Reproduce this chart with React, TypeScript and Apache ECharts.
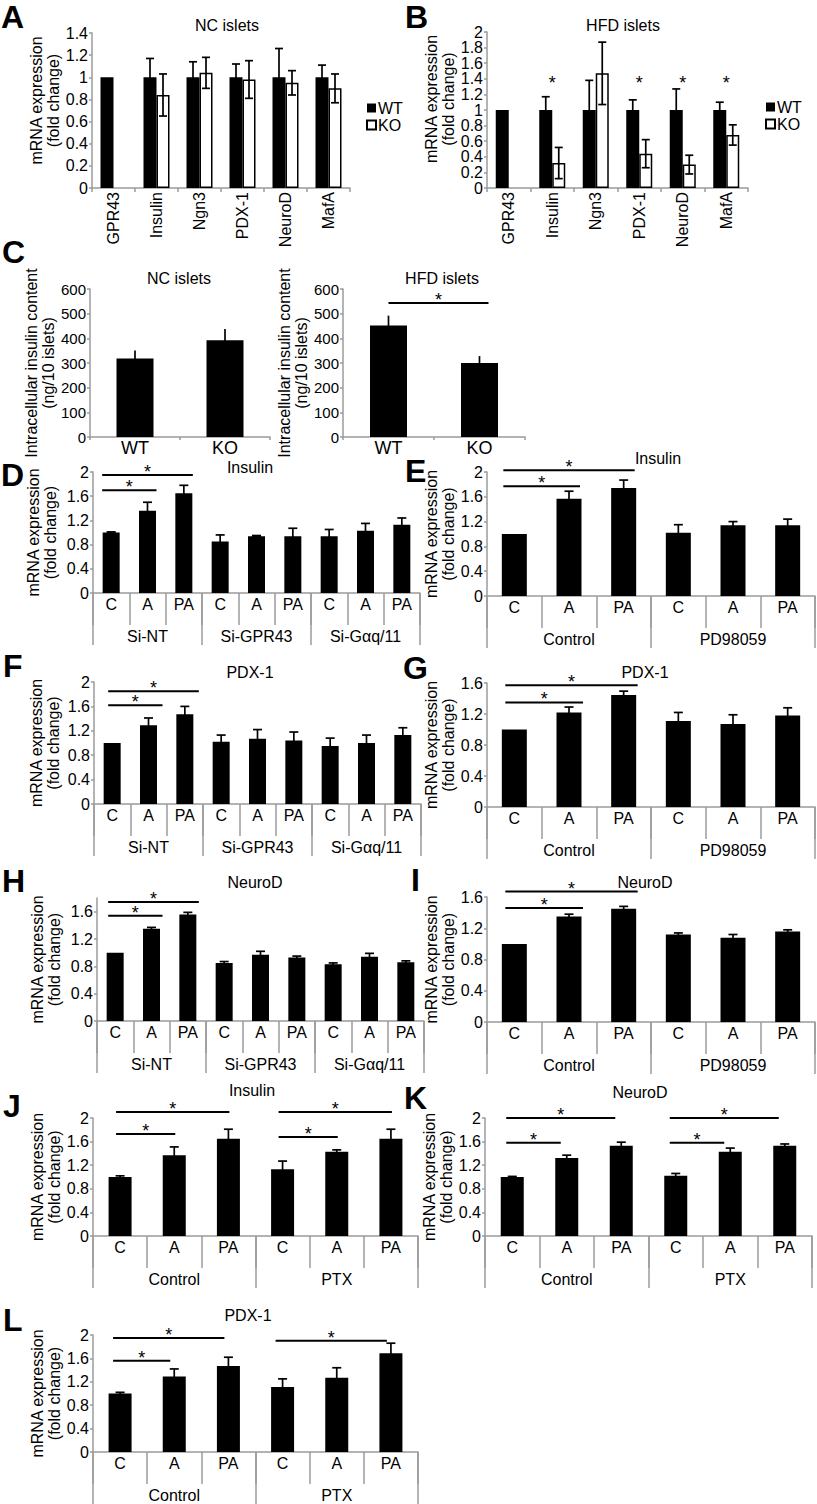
import React, { useEffect, useRef } from "react";
import * as echarts from "echarts";

const FONT = "'Liberation Sans', Arial, Helvetica, sans-serif";
const GRAY = "#9b9b9b";

// ---------- Panels A / B : islet gene expression ----------
const genes = ["GPR43", "Insulin", "Ngn3", "PDX-1", "NeuroD", "MafA"];
const ncWT = [1, 1, 1, 1, 1, 1];
const ncWTErr = [0, 0.17, 0.14, 0.12, 0.26, 0.11];
const ncKO = [null, 0.84, 1.04, 0.98, 0.95, 0.9];
const ncKOErr = [0, 0.19, 0.14, 0.17, 0.11, 0.13];
const hfdWT = [1, 1, 1, 1, 1, 1];
const hfdWTErr = [0, 0.17, 0.38, 0.13, 0.27, 0.1];
const hfdKO = [null, 0.32, 1.47, 0.44, 0.3, 0.68];
const hfdKOErr = [0, 0.2, 0.4, 0.18, 0.12, 0.13];
const hfdStarGenes = ["Insulin", "PDX-1", "NeuroD", "MafA"];
const hfdStarLevel = 1.35;
const tickAB_A = { max: 1.4, interval: 0.2 };
const tickAB_B = { max: 2, interval: 0.2 };

// ---------- Panel C : insulin content ----------
const genotypes = ["WT", "KO"];
const ncContent = [318, 392];
const ncContentErr = [33, 46];
const hfdContent = [452, 300];
const hfdContentErr = [40, 28];
const hfdContentSig = [[0, 1, 543]];

// ---------- Panels D-L : treatments ----------
const treat = ["C", "A", "PA"];
const siGroups = ["Si-NT", "Si-GPR43", "Si-Gαq/11"];
const pdGroups = ["Control", "PD98059"];
const ptxGroups = ["Control", "PTX"];

const dInsulin = [1.0, 1.36, 1.65, 0.85, 0.94, 0.94, 0.94, 1.03, 1.13];
const dInsulinErr = [0.01, 0.14, 0.13, 0.11, 0.01, 0.13, 0.11, 0.12, 0.11];
const dInsulinSig = [[0, 2, 1.95], [0, 1, 1.7]];

const eInsulin = [1.0, 1.57, 1.74, 1.02, 1.14, 1.14];
const eInsulinErr = [0, 0.12, 0.13, 0.13, 0.06, 0.1];
const eInsulinSig = [[0, 2, 2.03], [0, 1, 1.77]];

const fPdx1 = [1.0, 1.29, 1.47, 1.02, 1.07, 1.04, 0.95, 1.0, 1.13];
const fPdx1Err = [0, 0.12, 0.13, 0.11, 0.15, 0.14, 0.13, 0.13, 0.12];
const fPdx1Sig = [[0, 2, 1.85], [0, 1, 1.62]];

const gPdx1 = [1.0, 1.22, 1.445, 1.11, 1.07, 1.18];
const gPdx1Err = [0, 0.07, 0.05, 0.11, 0.12, 0.1];
const gPdx1Sig = [[0, 2, 1.57], [0, 1, 1.35]];

const hNeuroD = [1.0, 1.35, 1.56, 0.85, 0.97, 0.93, 0.83, 0.94, 0.86];
const hNeuroDErr = [0, 0.02, 0.03, 0.02, 0.05, 0.02, 0.02, 0.05, 0.02];
const hNeuroDSig = [[0, 2, 1.74], [0, 1, 1.54]];

const iNeuroD = [1.0, 1.35, 1.45, 1.12, 1.08, 1.16];
const iNeuroDErr = [0, 0.03, 0.03, 0.02, 0.04, 0.02];
const iNeuroDSig = [[0, 2, 1.67], [0, 1, 1.46]];

const jInsulin = [1.0, 1.37, 1.65, 1.13, 1.43, 1.65];
const jInsulinErr = [0.02, 0.14, 0.16, 0.14, 0.03, 0.16];
const jInsulinSig = [[0, 2, 2.1], [0, 1, 1.73], [3, 5, 2.1], [3, 4, 1.68]];

const kNeuroD = [1.0, 1.32, 1.53, 1.02, 1.43, 1.53];
const kNeuroDErr = [0.01, 0.05, 0.06, 0.04, 0.06, 0.03];
const kNeuroDSig = [[0, 2, 2.0], [0, 1, 1.58], [3, 5, 2.0], [3, 4, 1.58]];

const lPdx1 = [1.0, 1.29, 1.47, 1.11, 1.27, 1.69];
const lPdx1Err = [0.02, 0.13, 0.15, 0.14, 0.17, 0.17];
const lPdx1Sig = [[0, 2, 1.95], [0, 1, 1.56], [3, 5, 1.9]];

const MRNA_NAME = "mRNA expression\n(fold change)";
const CONTENT_NAME = "Intracellular insulin content\n(ng/10 islets)";

function repeatCats(groups: string[]) {
  const out: string[] = [];
  groups.forEach(() => treat.forEach((t) => out.push(t)));
  return out;
}

function buildOption() {
  const grid: any[] = [];
  const xAxis: any[] = [];
  const yAxis: any[] = [];
  const series: any[] = [];
  const graphic: any[] = [];
  const legend: any[] = [];

  const addGrid = (b: any) => {
    grid.push({ left: b.left, top: b.top, width: b.width, height: b.height, outerBoundsMode: "none" });
    return grid.length - 1;
  };

  const catAxis = (gi: number, data: string[], o: any) => {
    xAxis.push({
      type: "category",
      gridIndex: gi,
      position: "bottom",
      data,
      boundaryGap: true,
      axisLine: { show: o.line !== false, onZero: false, lineStyle: { color: GRAY, width: 1.5 } },
      axisTick: { show: true, interval: 0, length: o.tick, lineStyle: { color: GRAY, width: 1.5 } },
      axisLabel: {
        interval: 0,
        hideOverlap: false,
        color: "#000",
        fontSize: o.fontSize || 16,
        fontFamily: FONT,
        margin: o.margin,
        rotate: o.rotate || 0,
      },
      splitLine: { show: false },
    });
    return xAxis.length - 1;
  };

  const labelStyle = (o: any) => ({
    color: "#000",
    fontSize: o.fontSize || 16,
    lineHeight: o.labelLineHeight || 16,
    fontFamily: FONT,
    margin: 4,
    hideOverlap: false,
  });

  const valAxis = (gi: number, o: any) => {
    yAxis.push({
      type: "value",
      gridIndex: gi,
      position: "left",
      min: 0,
      max: o.max,
      interval: o.interval,
      axisLine: { show: true, lineStyle: { color: GRAY, width: 1.5 } },
      axisTick: { show: true, length: 3, lineStyle: { color: GRAY, width: 1.5 } },
      splitLine: { show: false },
      axisLabel: {
        ...labelStyle(o),
        showMinLabel: o.splitEnds ? false : true,
        showMaxLabel: o.hideMax || o.splitEnds ? false : true,
      },
      name: o.name,
      nameLocation: "middle",
      nameRotate: 90,
      nameGap: o.nameGap,
      nameTextStyle: {
        color: "#000",
        fontSize: 16,
        fontFamily: FONT,
        lineHeight: 17,
        padding: [0, 0, 0, (o.shift || 0) * 2],
      },
    });
    const yi = yAxis.length - 1;
    if (o.splitEnds) {
      // companion axis carrying only the end labels (0 and max)
      yAxis.push({
        type: "value",
        gridIndex: gi,
        position: "left",
        min: 0,
        max: o.max,
        interval: o.max,
        axisLine: { show: false },
        axisTick: { show: true, length: 3, lineStyle: { color: GRAY, width: 1.5 } },
        splitLine: { show: false },
        axisLabel: { ...labelStyle(o), showMinLabel: true, showMaxLabel: true },
      });
    }
    return yi;
  };

  const errSeries = (xi: number, yi: number, vals: any[], errs: number[], offset: number, cap: number) => ({
    type: "custom",
    xAxisIndex: xi,
    yAxisIndex: yi,
    silent: true,
    z: 5,
    data: vals
      .map((v, i) => (v == null || !errs[i] ? null : [i, v - errs[i], v + errs[i]]))
      .filter((d) => d !== null),
    encode: { x: 0, y: [1, 2] },
    renderItem: (_p: any, api: any) => {
      const i = api.value(0);
      const lo = api.coord([i, api.value(1)]);
      const hi = api.coord([i, api.value(2)]);
      const cx = lo[0] + offset;
      const st = { stroke: "#000", lineWidth: 1.7 };
      return {
        type: "group",
        children: [
          { type: "line", shape: { x1: cx, y1: lo[1], x2: cx, y2: hi[1] }, style: st },
          { type: "line", shape: { x1: cx - cap, y1: hi[1], x2: cx + cap, y2: hi[1] }, style: st },
          { type: "line", shape: { x1: cx - cap, y1: lo[1], x2: cx + cap, y2: lo[1] }, style: st },
        ],
      };
    },
  });

  const sigSeries = (xi: number, yi: number, items: number[][], off: number[]) => ({
    type: "custom",
    xAxisIndex: xi,
    yAxisIndex: yi,
    silent: true,
    clip: false,
    z: 6,
    data: items,
    encode: { x: [0, 1], y: 2 },
    renderItem: (_p: any, api: any) => {
      const a = api.coord([api.value(0), api.value(2)]);
      const b = api.coord([api.value(1), api.value(2)]);
      const x1 = a[0] + off[0];
      const x2 = b[0] + off[1];
      const y = a[1];
      return {
        type: "group",
        children: [
          { type: "line", shape: { x1, y1: y, x2, y2: y }, style: { stroke: "#000", lineWidth: 2 } },
          {
            type: "text",
            x: (x1 + x2) / 2,
            y: y - 3,
            style: { text: "*", fill: "#000", fontSize: 18, fontFamily: FONT, align: "center", verticalAlign: "middle" },
          },
        ],
      };
    },
  });

  const starSeries = (xi: number, yi: number, items: number[][]) => ({
    type: "custom",
    xAxisIndex: xi,
    yAxisIndex: yi,
    silent: true,
    z: 6,
    data: items,
    encode: { x: 0, y: 1 },
    renderItem: (_p: any, api: any) => {
      const p = api.coord([api.value(0), api.value(1)]);
      return {
        type: "text",
        x: p[0],
        y: p[1],
        style: { text: "*", fill: "#000", fontSize: 18, fontFamily: FONT, align: "center", verticalAlign: "middle" },
      };
    },
  });

  const text = (t: string, x: number, y: number, o: any = {}) =>
    graphic.push({
      type: "text",
      x,
      y,
      silent: true,
      style: {
        text: t,
        fill: "#000",
        fontSize: o.size || 16,
        fontWeight: o.bold ? "bold" : "normal",
        fontFamily: FONT,
        align: o.align || "center",
        verticalAlign: "middle",
      },
    });

  const letter = (t: string, x: number, y: number) => text(t, x, y, { size: 32, bold: true, align: "left" });

  // ---------- A and B ----------
  const genePanel = (b: any, ticks: any, wt: number[], wtErr: number[], ko: any[], koErr: number[], nameGap: number, shift: number, legendPos: number[], splitEnds: boolean) => {
    const gi = addGrid(b);
    const xi = catAxis(gi, genes, { tick: 4, margin: 4, rotate: 90 });
    const yi = valAxis(gi, { max: ticks.max, interval: ticks.interval, name: MRNA_NAME, nameGap, shift, labelLineHeight: 13, splitEnds });
    series.push({
      type: "bar", name: "WT", xAxisIndex: xi, yAxisIndex: yi, data: wt, barWidth: 13, barGap: "0%",
      itemStyle: { color: "#000" },
    });
    series.push({
      type: "bar", name: "KO", xAxisIndex: xi, yAxisIndex: yi, data: ko, barWidth: 13, barGap: "0%",
      itemStyle: { color: "#fff", borderColor: "#000", borderWidth: 1.5 },
    });
    series.push(errSeries(xi, yi, wt, wtErr, -6.5, 4));
    series.push(errSeries(xi, yi, ko, koErr, 6.5, 4));
    legend.push({
      data: ["WT", "KO"],
      orient: "vertical",
      left: legendPos[0],
      top: legendPos[1],
      itemWidth: 9,
      itemHeight: 9,
      itemGap: 1,
      padding: 0,
      icon: "rect",
      selectedMode: false,
      textStyle: { fontSize: 16, color: "#000", fontFamily: FONT, padding: [0, 0, 0, -3] },
    });
    return { xi, yi };
  };

  genePanel({ left: 92, top: 33, width: 258, height: 155 }, tickAB_A, ncWT, ncWTErr, ncKO, ncKOErr, 28.5, 10, [366, 100], false);
  const bAx = genePanel({ left: 487, top: 32, width: 261, height: 156 }, tickAB_B, hfdWT, hfdWTErr, hfdKO, hfdKOErr, 22.5, 11, [765, 99], true);
  series.push(starSeries(bAx.xi, bAx.yi, hfdStarGenes.map((g) => [genes.indexOf(g), hfdStarLevel])));
  letter("A", 1, 17);
  letter("B", 405, 17);
  text("NC islets", 227, 25);
  text("HFD islets", 623, 25);

  // ---------- C ----------
  const contentPanel = (b: any, vals: number[], errs: number[], nameGap: number) => {
    const gi = addGrid(b);
    const xi = catAxis(gi, genotypes, { tick: 3, margin: 2, fontSize: 18 });
    const yi = valAxis(gi, { max: 600, interval: 100, name: CONTENT_NAME, nameGap, fontSize: 15 });
    series.push({ type: "bar", xAxisIndex: xi, yAxisIndex: yi, data: vals, barWidth: 37, itemStyle: { color: "#000" } });
    series.push(errSeries(xi, yi, vals, errs, 0, 0));
    return { xi, yi };
  };
  contentPanel({ left: 90, top: 289, width: 180, height: 148 }, ncContent, ncContentErr, 28.5);
  const chAx = contentPanel({ left: 343, top: 289, width: 182, height: 148 }, hfdContent, hfdContentErr, 21.5);
  series.push(sigSeries(chAx.xi, chAx.yi, hfdContentSig, [0, 9]));
  letter("C", 2, 252);
  text("NC islets", 179, 278);
  text("HFD islets", 442, 278);

  // ---------- D - L ----------
  const treatPanel = (cfg: any) => {
    const gi = addGrid(cfg.box);
    const xi = catAxis(gi, repeatCats(cfg.groups), { tick: 32, margin: 3 });
    catAxis(gi, cfg.groups, { tick: 52, margin: 35, line: false });
    const yi = valAxis(gi, { max: cfg.max, interval: 0.4, name: MRNA_NAME, nameGap: cfg.nameGap, hideMax: cfg.hideMax });
    series.push({ type: "bar", xAxisIndex: xi, yAxisIndex: yi, data: cfg.values, barWidth: cfg.barWidth, itemStyle: { color: "#000" } });
    series.push(errSeries(xi, yi, cfg.values, cfg.errs, 0, 4.5));
    series.push(sigSeries(xi, yi, cfg.sig, cfg.sigOff));
    letter(cfg.letter[0], cfg.letter[1], cfg.letter[2]);
    text(cfg.title[0], cfg.title[1], cfg.title[2]);
  };

  treatPanel({
    box: { left: 93, top: 472, width: 327, height: 121 }, groups: siGroups, max: 2, nameGap: 34.5,
    values: dInsulin, errs: dInsulinErr, sig: dInsulinSig, sigOff: [-9, 9], barWidth: 17,
    letter: ["D", 1, 475], title: ["Insulin", 250, 467],
  });
  treatPanel({
    box: { left: 487, top: 472, width: 328, height: 124 }, groups: pdGroups, max: 2, nameGap: 26.5,
    values: eInsulin, errs: eInsulinErr, sig: eInsulinSig, sigOff: [-11, 11], barWidth: 25,
    letter: ["E", 405, 471], title: ["Insulin", 658, 458],
  });
  treatPanel({
    box: { left: 94, top: 682, width: 327, height: 122 }, groups: siGroups, max: 2, nameGap: 32.5,
    values: fPdx1, errs: fPdx1Err, sig: fPdx1Sig, sigOff: [-4, 14], barWidth: 17,
    letter: ["F", 3, 666], title: ["PDX-1", 250, 672],
  });
  treatPanel({
    box: { left: 487, top: 683, width: 328, height: 124 }, groups: pdGroups, max: 1.6, nameGap: 30.5,
    values: gPdx1, errs: gPdx1Err, sig: gPdx1Sig, sigOff: [-9, 14], barWidth: 25,
    letter: ["G", 403, 668], title: ["PDX-1", 645, 672],
  });
  treatPanel({
    box: { left: 97, top: 898, width: 327, height: 123 }, groups: siGroups, max: 1.8, hideMax: true, nameGap: 34.5,
    values: hNeuroD, errs: hNeuroDErr, sig: hNeuroDSig, sigOff: [-7, 11], barWidth: 17,
    letter: ["H", 2, 881], title: ["NeuroD", 255, 882],
  });
  treatPanel({
    box: { left: 487, top: 897, width: 328, height: 125 }, groups: pdGroups, max: 1.6, nameGap: 27.5,
    values: iNeuroD, errs: iNeuroDErr, sig: iNeuroDSig, sigOff: [-9, 14], barWidth: 25,
    letter: ["I", 411, 880], title: ["NeuroD", 645, 882],
  });
  treatPanel({
    box: { left: 93, top: 1118, width: 325, height: 118 }, groups: ptxGroups, max: 2, nameGap: 27.5,
    values: jInsulin, errs: jInsulinErr, sig: jInsulinSig, sigOff: [-4, 1], barWidth: 23,
    letter: ["J", 3, 1106], title: ["Insulin", 252, 1090],
  });
  treatPanel({
    box: { left: 485, top: 1118, width: 327, height: 118 }, groups: ptxGroups, max: 2, nameGap: 28,
    values: kNeuroD, errs: kNeuroDErr, sig: kNeuroDSig, sigOff: [-6, -6], barWidth: 23,
    letter: ["K", 404, 1098], title: ["NeuroD", 640, 1092],
  });
  treatPanel({
    box: { left: 93, top: 1335, width: 325, height: 117 }, groups: ptxGroups, max: 2, nameGap: 27.5,
    values: lPdx1, errs: lPdx1Err, sig: lPdx1Sig, sigOff: [-7, -4], barWidth: 23,
    letter: ["L", 3, 1320], title: ["PDX-1", 248, 1315],
  });

  return {
    animation: false,
    backgroundColor: "#fff",
    textStyle: { fontFamily: FONT },
    grid,
    xAxis,
    yAxis,
    series,
    legend,
    graphic,
  };
}

export default function App() {
  const ref = useRef<HTMLDivElement>(null);
  useEffect(() => {
    if (!ref.current) return;
    const chart = echarts.init(ref.current, null, { renderer: "svg" });
    chart.setOption(buildOption() as any);
    return () => chart.dispose();
  }, []);
  return (
    <div
      ref={ref}
      style={{ position: "absolute", left: 0, top: 0, width: 817, height: 1504, background: "#fff" }}
    />
  );
}
